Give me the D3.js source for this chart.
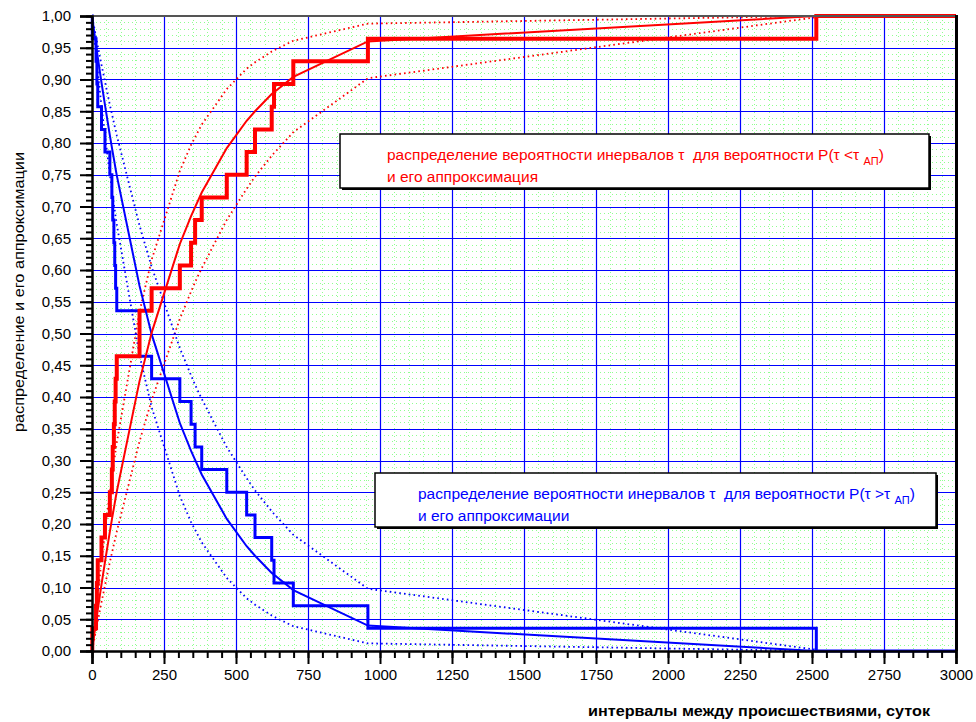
<!DOCTYPE html>
<html>
<head>
<meta charset="utf-8">
<script src="https://cdn.jsdelivr.net/npm/d3@7/dist/d3.min.js"></script>
<style>
  body { margin: 0; background: #fff; }
  svg { display: block; font-family: "Liberation Sans", Arial, sans-serif; }
</style>
</head>
<body>
<svg width="976" height="722"></svg>
<script>
// sorted intervals between incidents, days (28 observations)
var intervals = [1, 14, 17, 20, 33, 45, 62, 69, 72, 76, 79, 82, 86, 165, 165, 207,
                 305, 344, 358, 381, 468, 537, 566, 624, 632, 699, 958, 2515];

// approximation of P(t < tАП) at each interval, and its two bounds
var approx    = [0.003, 0.046, 0.055, 0.065, 0.105, 0.140, 0.188, 0.207, 0.215, 0.225, 0.233, 0.241, 0.251, 0.425, 0.425, 0.501,
                 0.641, 0.685, 0.699, 0.722, 0.792, 0.835, 0.850, 0.877, 0.880, 0.904, 0.960, 1.000];
var boundHigh = [0.005, 0.063, 0.076, 0.088, 0.142, 0.188, 0.249, 0.273, 0.283, 0.297, 0.306, 0.316, 0.328, 0.534, 0.534, 0.616,
                 0.756, 0.797, 0.809, 0.829, 0.885, 0.917, 0.927, 0.944, 0.946, 0.961, 0.988, 1.000];
var boundLow  = [0.002, 0.033, 0.040, 0.047, 0.077, 0.103, 0.140, 0.154, 0.160, 0.168, 0.174, 0.180, 0.188, 0.330, 0.330, 0.395,
                 0.523, 0.566, 0.581, 0.603, 0.679, 0.728, 0.747, 0.780, 0.784, 0.817, 0.902, 0.998];

var xTicks = [0, 250, 500, 750, 1000, 1250, 1500, 1750, 2000, 2250, 2500, 2750, 3000];
var yTicks = [0, 0.05, 0.10, 0.15, 0.20, 0.25, 0.30, 0.35, 0.40, 0.45, 0.50,
              0.55, 0.60, 0.65, 0.70, 0.75, 0.80, 0.85, 0.90, 0.95, 1.00];

var svg = d3.select("svg");

var x = d3.scaleLinear().domain([0, 3000]).range([92, 956]);
var y = d3.scaleLinear().domain([0, 1]).range([651, 16]);

var n = intervals.length;
var fmt = function(d) { return d3.format(".2f")(d).replace(".", ","); };

// minor grid (green dots)
var grid = svg.append("g");
grid.selectAll("line.mx")
    .data(d3.range(50, 3000, 50))
    .enter().append("line")
    .attr("x1", function(d) { return Math.round(x(d)) + 0.5; })
    .attr("x2", function(d) { return Math.round(x(d)) + 0.5; })
    .attr("y1", y(1)).attr("y2", y(0))
    .style("stroke", "#33ff33").style("stroke-opacity", 0.55)
    .style("stroke-dasharray", "1,3");
grid.selectAll("line.my")
    .data(d3.range(1, 100))
    .enter().append("line")
    .attr("y1", function(d) { return Math.round(y(d / 100)) + 0.5; })
    .attr("y2", function(d) { return Math.round(y(d / 100)) + 0.5; })
    .attr("x1", x(0)).attr("x2", x(3000))
    .style("stroke", "#33ff33").style("stroke-opacity", 0.55)
    .style("stroke-dasharray", "1,3");

// major grid (blue)
grid.selectAll("line.gx")
    .data(xTicks.slice(1, -1))
    .enter().append("line")
    .attr("x1", function(d) { return Math.round(x(d)) + 0.5; })
    .attr("x2", function(d) { return Math.round(x(d)) + 0.5; })
    .attr("y1", y(1)).attr("y2", y(0))
    .style("stroke", "#0000ff").style("stroke-width", 1.2);
grid.selectAll("line.gy")
    .data(yTicks.slice(1, -1))
    .enter().append("line")
    .attr("y1", function(d) { return Math.round(y(d)) + 0.5; })
    .attr("y2", function(d) { return Math.round(y(d)) + 0.5; })
    .attr("x1", x(0)).attr("x2", x(3000))
    .style("stroke", "#0000ff").style("stroke-width", 1.2);

// series
var pts = function(vals, flip) {
    return intervals.map(function(t, i) { return [t, flip ? 1 - vals[i] : vals[i]]; });
};
var stepPts = function(flip) {
    var p = [[0, flip ? 1 : 0]];
    intervals.forEach(function(t, i) { p.push([t, flip ? 1 - (i + 1) / n : (i + 1) / n]); });
    p.push([3000, flip ? 0 : 1]);
    return p;
};

var line = d3.line()
    .x(function(d) { return x(d[0]); })
    .y(function(d) { return y(d[1]); });
var step = d3.line()
    .x(function(d) { return x(d[0]); })
    .y(function(d) { return y(d[1]); })
    .curve(d3.curveStepAfter);

var series = svg.append("g").style("fill", "none");

// bounds (dotted)
[[boundHigh, false, "#ff0000"], [boundLow, false, "#ff0000"],
 [boundHigh, true, "#0000ff"], [boundLow, true, "#0000ff"]].forEach(function(s) {
    series.append("path")
        .attr("d", line(pts(s[0], s[1])))
        .style("stroke", s[2])
        .style("stroke-width", 1.8)
        .style("stroke-dasharray", "1.6,3.2");
});

// empirical steps
series.append("path")
    .attr("d", step(stepPts(true)))
    .style("stroke", "#0000ff").style("stroke-width", 3);
series.append("path")
    .attr("d", step(stepPts(false)))
    .style("stroke", "#ff0000").style("stroke-width", 4);

// approximations
series.append("path")
    .attr("d", line(pts(approx, true)))
    .style("stroke", "#0000ff").style("stroke-width", 2);
series.append("path")
    .attr("d", line(pts(approx, false)))
    .style("stroke", "#ff0000").style("stroke-width", 2);

// frame top / right
svg.append("line")
    .attr("x1", x(0)).attr("x2", x(3000) + 1)
    .attr("y1", y(1)).attr("y2", y(1))
    .style("stroke", "#555").style("stroke-width", 2);
svg.append("line")
    .attr("x1", x(3000) + 0.5).attr("x2", x(3000) + 0.5)
    .attr("y1", y(1) - 1).attr("y2", y(0))
    .style("stroke", "#000").style("stroke-width", 3);

// axes
var yMinor = svg.append("g")
    .attr("transform", "translate(" + x(0) + ",0)")
    .call(d3.axisLeft(y).tickValues(d3.range(0, 101).map(function(d) { return d / 100; }))
        .tickSize(6).tickFormat(""));
var yAxis = svg.append("g")
    .attr("transform", "translate(" + x(0) + ",0)")
    .call(d3.axisLeft(y).tickValues(yTicks).tickSize(12).tickPadding(9).tickFormat(fmt));
var xMinor = svg.append("g")
    .attr("transform", "translate(0," + y(0) + ")")
    .call(d3.axisBottom(x).tickValues(d3.range(0, 3001, 50)).tickSize(7).tickFormat(""));
var xAxis = svg.append("g")
    .attr("transform", "translate(0," + y(0) + ")")
    .call(d3.axisBottom(x).tickValues(xTicks).tickSize(13).tickPadding(5)
        .tickFormat(d3.format("d")));

[yMinor, yAxis, xMinor, xAxis].forEach(function(g) {
    g.selectAll("line").style("stroke", "#000").style("stroke-width", 2);
    g.select(".domain").style("stroke", "#000").style("stroke-width", 2.5);
    g.selectAll("text").style("font-family", "Liberation Sans, Arial, sans-serif")
        .style("font-size", "15px").style("fill", "#000");
});
yMinor.select(".domain").remove();
xMinor.select(".domain").remove();

// axis titles
svg.append("text")
    .attr("transform", "translate(24,292) rotate(-90)")
    .attr("text-anchor", "middle")
    .attr("textLength", 280).attr("lengthAdjust", "spacingAndGlyphs")
    .style("font-size", "15px")
    .text("распределение и его аппроксимации");
svg.append("text")
    .attr("x", 588).attr("y", 716)
    .attr("textLength", 342).attr("lengthAdjust", "spacingAndGlyphs")
    .style("font-size", "15px").style("font-weight", "bold")
    .text("интервалы между происшествиями, суток");

// legend boxes
function legendBox(x0, y0, w, h, tx, color, sign, line2) {
    var g = svg.append("g");
    g.append("rect").attr("x", x0 + 2).attr("y", y0 + 2).attr("width", w).attr("height", h)
        .style("fill", "#000");
    g.append("rect").attr("x", x0).attr("y", y0).attr("width", w).attr("height", h)
        .style("fill", "#fff").style("stroke", "#000").style("stroke-width", 1.5);
    var t = g.append("text").attr("x", tx).attr("y", y0 + 26)
        .style("font-size", "15.5px").style("fill", color);
    t.append("tspan").text("распределение вероятности инервалов τ\u00a0\u00a0для вероятности P(τ\u00a0" + sign + "τ\u00a0");
    t.append("tspan").attr("dy", 5).style("font-size", "11px").text("АП");
    t.append("tspan").attr("dy", -5).text(")");
    g.append("text").attr("x", tx).attr("y", y0 + 48)
        .style("font-size", "15.5px").style("fill", color)
        .text(line2);
}
legendBox(340, 134, 589, 54, 387, "#ff0000", "<", "и его аппроксимация");
legendBox(375, 473, 561, 54, 418, "#0000ff", ">", "и его аппроксимации");
</script>
</body>
</html>
